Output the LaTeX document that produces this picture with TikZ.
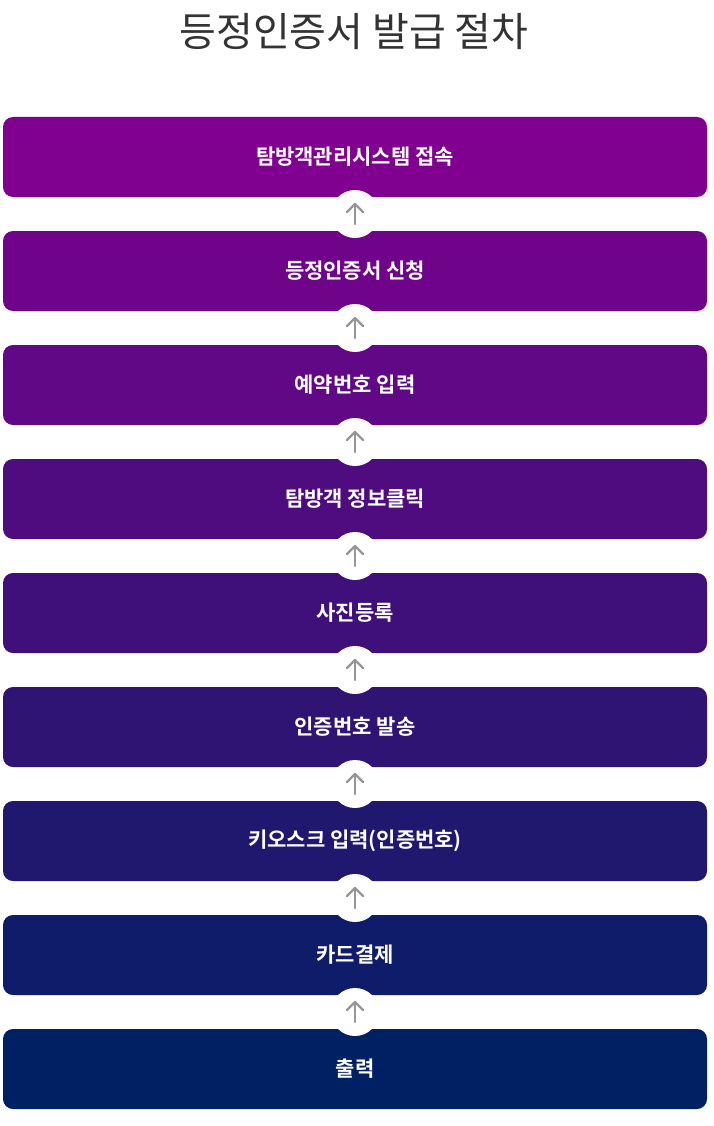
\documentclass[tikz,border=0pt]{standalone}
\usepackage{fontspec}
\setmainfont{Noto Sans CJK KR}
\newfontfamily\krb{Noto Sans CJK KR Bold}
\definecolor{topc}{RGB}{128,0,144}
\definecolor{botc}{RGB}{0,32,100}
\definecolor{titlec}{RGB}{51,51,51}
\definecolor{arrc}{RGB}{150,150,150}
\tikzset{
 stepbox/.style={rounded corners=10pt, minimum width=704pt, minimum height=80pt, inner sep=0pt, text=white, font=\krb\fontsize{21pt}{24pt}\selectfont},
 joint/.style={circle, fill=white, minimum size=48pt, inner sep=0pt},
 arr/.style={draw=arrc, line width=2.2pt, line cap=round, line join=round}
}
\begin{document}
\begin{tikzpicture}[x=1pt,y=-1pt]
\useasboundingbox[fill=white] (0,0) rectangle (713,1126);
\node[text=titlec, font=\fontsize{40pt}{44pt}\selectfont] (title) at (354,32) {등정인증서 발급 절차};
\foreach \i/\t in {0/탐방객관리시스템 접속,1/등정인증서 신청,2/예약번호 입력,3/탐방객 정보클릭,4/사진등록,5/인증번호 발송,6/키오스크 입력(인증번호),7/카드결제,8/출력}{
  \pgfmathtruncatemacro{\p}{100-12.5*\i}
  \node[stepbox, fill=topc!\p!botc] (b\i) at (355,157+114*\i) {\t};
}
\foreach \i in {0,...,7}{
  \pgfmathtruncatemacro{\j}{\i+1}
  \path (b\i.south) -- (b\j.north) node[midway, joint] (c\i) {};
  \draw[arr] ([yshift=-10pt]c\i.center) -- ([yshift=10pt]c\i.center);
  \draw[arr] ([xshift=-8pt,yshift=2pt]c\i.center) -- ([yshift=10pt]c\i.center) -- ([xshift=8pt,yshift=2pt]c\i.center);
}
\end{tikzpicture}
\end{document}
